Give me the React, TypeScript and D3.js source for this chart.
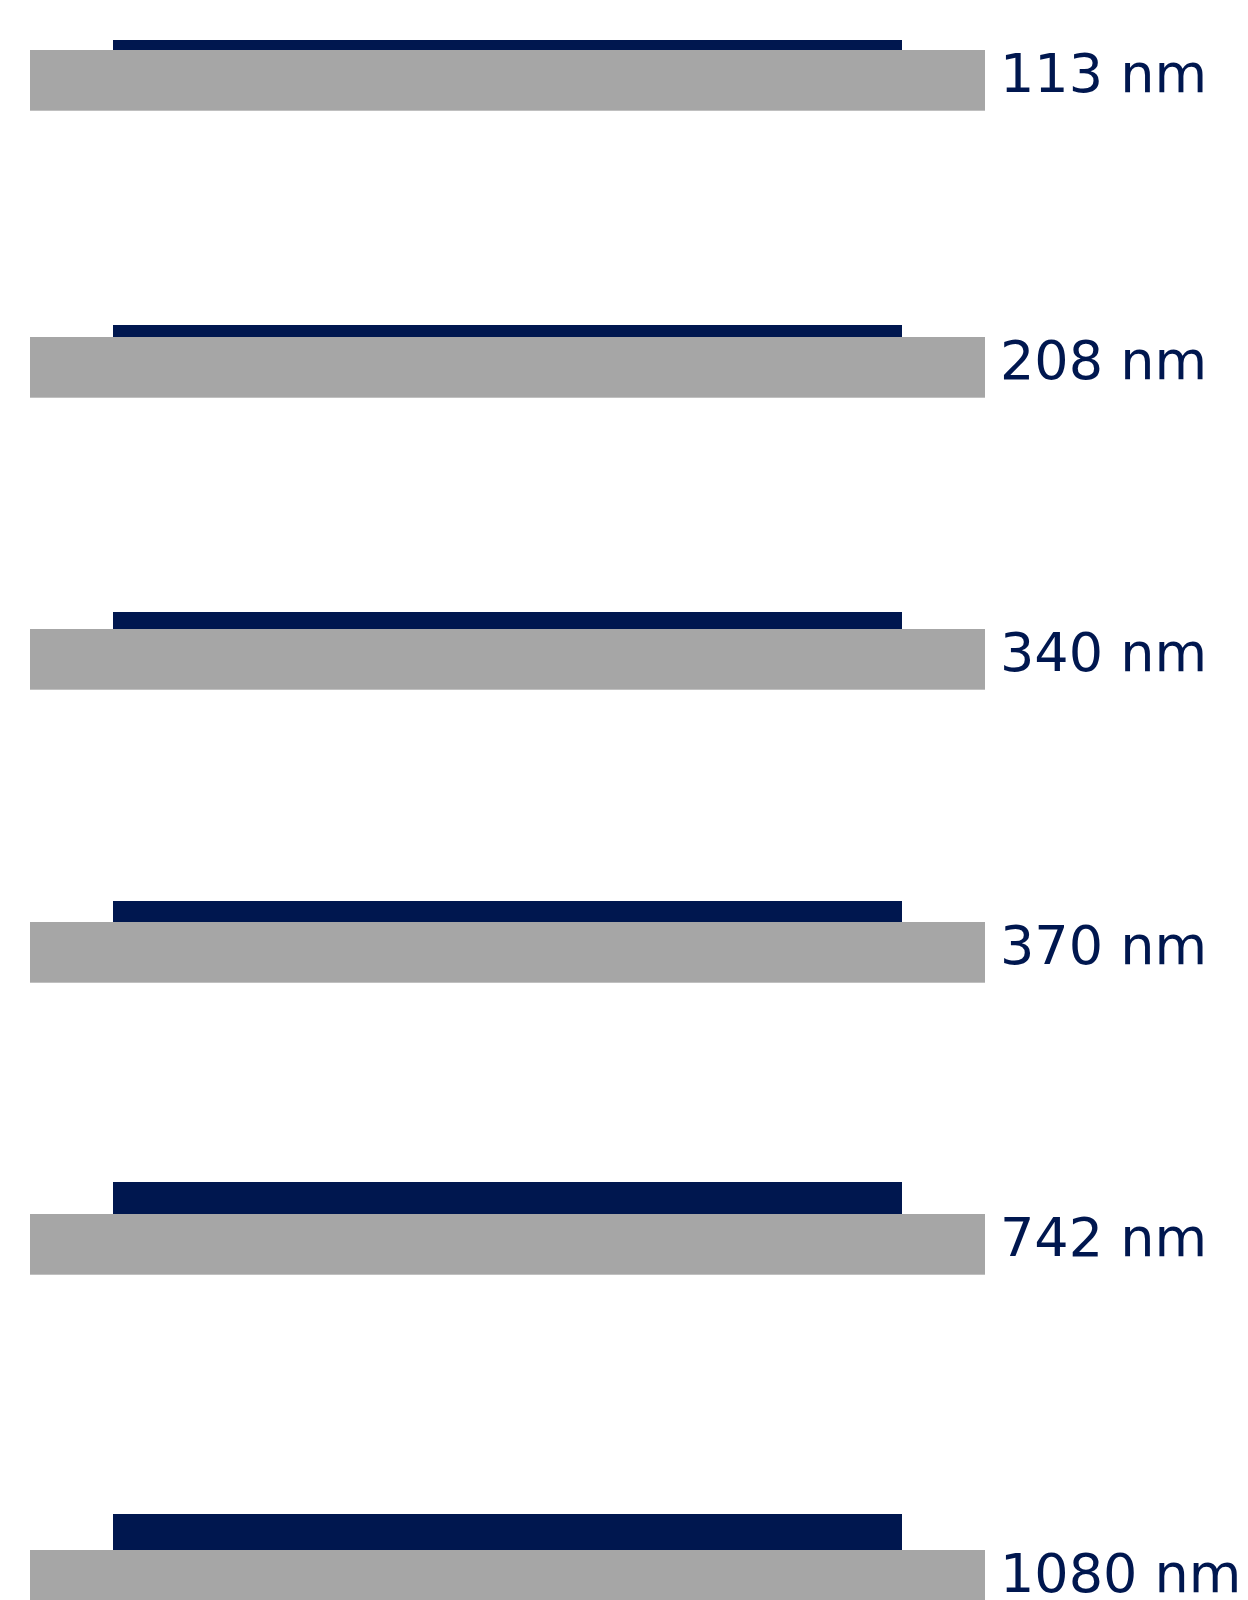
import React from "react";
import * as d3 from "d3";

// ---- data ----
const labels = ["113 nm", "208 nm", "340 nm", "370 nm", "742 nm", "1080 nm"];
const thicknessNm = [113, 208, 340, 370, 742, 1080];
const rowIndex = [0, 1, 2, 3, 4, 5];

const W = 1248;
const H = 1600;
const NAVY = "#00174f";
const GRAY = "#a6a6a6";

export default function App() {
  // vertical placement of each row (schematic, uneven spacing as in the reference)
  const rowY = d3
    .scaleLinear()
    .domain(rowIndex)
    .range([50, 337, 629, 922, 1214, 1550]);
  // film thickness (nm) -> drawn layer height (px)
  const filmH = d3
    .scaleLinear()
    .domain(thicknessNm)
    .range([10, 12, 17, 21, 32, 36]);
  // horizontal extents
  const x = d3.scaleLinear().domain([0, 1]).range([30, 985]);
  const filmX0 = 113;
  const filmX1 = 902;
  const substrateH = 60.7;

  return (
    <svg
      width={W}
      height={H}
      style={{ position: "absolute", left: 0, top: 0, background: "#fff" }}
    >
      {rowIndex.map((i) => {
        const top = rowY(i);
        const h = filmH(thicknessNm[i]);
        return (
          <g key={labels[i]}>
            <rect x={filmX0} y={top - h} width={filmX1 - filmX0} height={h} fill={NAVY} />
            <rect x={x(0)} y={top} width={x(1) - x(0)} height={substrateH} fill={GRAY} />
            <text
              x={1000}
              y={top + substrateH / 2 + 12}
              fontFamily="DejaVu Sans"
              fontSize={54}
              fill={NAVY}
            >
              {labels[i]}
            </text>
          </g>
        );
      })}
    </svg>
  );
}
